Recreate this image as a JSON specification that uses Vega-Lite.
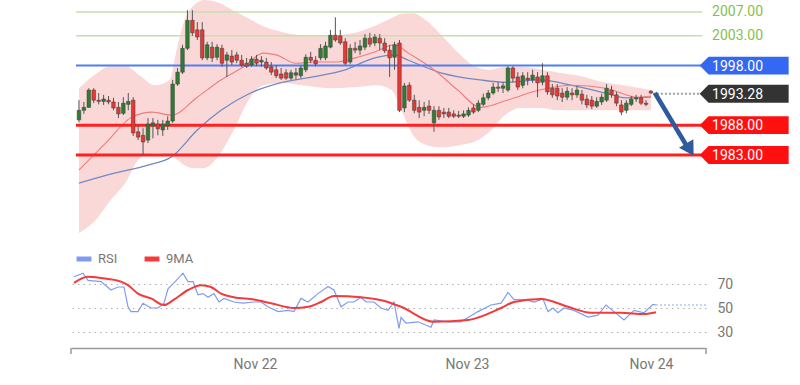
{
  "$schema": "https://vega.github.io/schema/vega-lite/v6.json",
  "padding": {"left": 70, "top": 0, "right": 0, "bottom": 0},
  "config": {"font": "Roboto", "view": {"stroke": null}},
  "datasets": {
    "candles": [
      {"i":0,"o":1988.9,"h":1992.2,"l":1988.5,"c":1990.5},
      {"i":1,"o":1990.5,"h":1991.9,"l":1989.9,"c":1991.0},
      {"i":2,"o":1991.0,"h":1994.2,"l":1990.9,"c":1993.9},
      {"i":3,"o":1993.9,"h":1994.2,"l":1991.7,"c":1992.2},
      {"i":4,"o":1992.2,"h":1993.4,"l":1991.5,"c":1992.0},
      {"i":5,"o":1992.0,"h":1993.1,"l":1991.4,"c":1992.4},
      {"i":6,"o":1992.2,"h":1992.9,"l":1991.5,"c":1991.9},
      {"i":7,"o":1991.9,"h":1992.6,"l":1990.5,"c":1990.9},
      {"i":8,"o":1991.0,"h":1991.9,"l":1989.2,"c":1989.9},
      {"i":9,"o":1990.0,"h":1992.7,"l":1989.7,"c":1991.7},
      {"i":10,"o":1991.5,"h":1993.4,"l":1990.5,"c":1992.0},
      {"i":11,"o":1992.2,"h":1992.7,"l":1986.2,"c":1986.7},
      {"i":12,"o":1986.9,"h":1988.0,"l":1985.5,"c":1986.0},
      {"i":13,"o":1986.3,"h":1987.5,"l":1983.0,"c":1985.2},
      {"i":14,"o":1985.5,"h":1989.2,"l":1985.0,"c":1988.2},
      {"i":15,"o":1987.9,"h":1989.2,"l":1985.8,"c":1988.4},
      {"i":16,"o":1988.2,"h":1988.9,"l":1986.3,"c":1987.4},
      {"i":17,"o":1987.2,"h":1988.9,"l":1986.2,"c":1988.2},
      {"i":18,"o":1987.9,"h":1989.5,"l":1987.2,"c":1988.7},
      {"i":19,"o":1988.7,"h":1995.6,"l":1988.4,"c":1994.9},
      {"i":20,"o":1994.9,"h":1997.6,"l":1994.6,"c":1996.9},
      {"i":21,"o":1996.9,"h":2001.5,"l":1996.6,"c":2000.9},
      {"i":22,"o":2000.9,"h":2007.3,"l":2000.6,"c":2005.6},
      {"i":23,"o":2005.6,"h":2007.3,"l":2003.0,"c":2003.5},
      {"i":24,"o":2004.0,"h":2005.3,"l":2002.3,"c":2002.8},
      {"i":25,"o":2004.0,"h":2005.3,"l":1998.9,"c":1999.3},
      {"i":26,"o":1999.3,"h":2002.0,"l":1998.9,"c":2001.5},
      {"i":27,"o":2001.1,"h":2002.0,"l":1998.6,"c":1999.3},
      {"i":28,"o":1999.4,"h":2001.6,"l":1998.9,"c":2001.1},
      {"i":29,"o":2000.9,"h":2001.5,"l":1997.8,"c":1998.4},
      {"i":30,"o":1998.9,"h":2000.3,"l":1996.1,"c":1999.8},
      {"i":31,"o":1999.6,"h":2000.6,"l":1998.1,"c":1998.6},
      {"i":32,"o":1999.8,"h":2000.3,"l":1998.4,"c":1998.9},
      {"i":33,"o":1998.9,"h":1999.8,"l":1997.8,"c":1998.1},
      {"i":34,"o":1998.4,"h":1999.3,"l":1997.6,"c":1997.9},
      {"i":35,"o":1998.1,"h":1999.6,"l":1997.8,"c":1999.1},
      {"i":36,"o":1999.1,"h":1999.8,"l":1997.9,"c":1998.4},
      {"i":37,"o":1998.6,"h":1999.6,"l":1997.8,"c":1998.9},
      {"i":38,"o":1998.6,"h":1999.3,"l":1997.3,"c":1997.6},
      {"i":39,"o":1997.8,"h":1998.6,"l":1996.4,"c":1996.9},
      {"i":40,"o":1997.3,"h":1998.1,"l":1995.9,"c":1996.3},
      {"i":41,"o":1996.6,"h":1997.6,"l":1995.6,"c":1995.9},
      {"i":42,"o":1996.8,"h":1997.4,"l":1995.6,"c":1995.9},
      {"i":43,"o":1995.9,"h":1997.3,"l":1995.6,"c":1996.8},
      {"i":44,"o":1996.4,"h":1997.6,"l":1995.7,"c":1996.8},
      {"i":45,"o":1996.3,"h":1998.1,"l":1995.9,"c":1997.6},
      {"i":46,"o":1997.3,"h":1999.9,"l":1996.9,"c":1999.4},
      {"i":47,"o":1999.4,"h":2000.3,"l":1998.4,"c":1998.9},
      {"i":48,"o":1998.9,"h":1999.6,"l":1997.9,"c":1998.3},
      {"i":49,"o":1999.3,"h":2001.6,"l":1998.9,"c":2000.9},
      {"i":50,"o":1999.3,"h":2002.0,"l":1998.9,"c":2001.3},
      {"i":51,"o":2001.1,"h":2004.0,"l":2000.9,"c":2003.1},
      {"i":52,"o":2003.1,"h":2006.1,"l":2002.0,"c":2002.3},
      {"i":53,"o":2003.0,"h":2004.0,"l":2001.5,"c":2001.8},
      {"i":54,"o":2002.0,"h":2002.6,"l":1998.1,"c":1998.4},
      {"i":55,"o":1998.6,"h":2001.6,"l":1998.3,"c":2000.9},
      {"i":56,"o":2000.9,"h":2002.0,"l":2000.1,"c":2000.6},
      {"i":57,"o":2000.6,"h":2002.3,"l":1999.8,"c":2001.3},
      {"i":58,"o":2001.1,"h":2003.3,"l":2000.6,"c":2002.6},
      {"i":59,"o":2002.6,"h":2003.5,"l":2001.1,"c":2001.6},
      {"i":60,"o":2001.8,"h":2003.3,"l":2001.3,"c":2002.8},
      {"i":61,"o":2002.6,"h":2003.3,"l":2000.6,"c":2001.8},
      {"i":62,"o":2001.8,"h":2002.6,"l":2000.1,"c":2000.5},
      {"i":63,"o":2000.6,"h":2001.5,"l":1996.1,"c":1999.3},
      {"i":64,"o":1999.4,"h":2002.0,"l":1997.3,"c":2001.5},
      {"i":65,"o":2001.8,"h":2002.3,"l":1990.2,"c":1990.5},
      {"i":66,"o":1990.9,"h":1995.1,"l":1990.2,"c":1994.6},
      {"i":67,"o":1994.7,"h":1995.2,"l":1991.9,"c":1992.2},
      {"i":68,"o":1992.2,"h":1993.1,"l":1990.0,"c":1990.5},
      {"i":69,"o":1991.0,"h":1992.2,"l":1989.2,"c":1990.2},
      {"i":70,"o":1990.5,"h":1991.9,"l":1989.5,"c":1991.0},
      {"i":71,"o":1991.2,"h":1992.2,"l":1989.9,"c":1990.5},
      {"i":72,"o":1988.4,"h":1991.2,"l":1986.9,"c":1990.5},
      {"i":73,"o":1990.5,"h":1991.2,"l":1988.9,"c":1989.4},
      {"i":74,"o":1990.2,"h":1990.9,"l":1989.2,"c":1989.9},
      {"i":75,"o":1990.2,"h":1990.9,"l":1989.2,"c":1989.5},
      {"i":76,"o":1989.9,"h":1990.5,"l":1989.2,"c":1989.5},
      {"i":77,"o":1989.7,"h":1990.4,"l":1989.2,"c":1989.5},
      {"i":78,"o":1989.5,"h":1990.5,"l":1989.2,"c":1989.9},
      {"i":79,"o":1989.7,"h":1991.0,"l":1989.4,"c":1990.5},
      {"i":80,"o":1990.9,"h":1991.5,"l":1989.9,"c":1990.2},
      {"i":81,"o":1990.5,"h":1992.2,"l":1990.2,"c":1991.7},
      {"i":82,"o":1991.5,"h":1993.3,"l":1991.2,"c":1992.6},
      {"i":83,"o":1992.6,"h":1993.9,"l":1992.2,"c":1993.4},
      {"i":84,"o":1993.4,"h":1995.1,"l":1993.1,"c":1994.4},
      {"i":85,"o":1994.4,"h":1995.2,"l":1993.6,"c":1994.2},
      {"i":86,"o":1994.2,"h":1995.2,"l":1993.4,"c":1994.6},
      {"i":87,"o":1993.9,"h":1997.9,"l":1993.6,"c":1997.6},
      {"i":88,"o":1997.6,"h":1997.9,"l":1995.2,"c":1995.9},
      {"i":89,"o":1996.1,"h":1996.9,"l":1993.9,"c":1994.4},
      {"i":90,"o":1994.7,"h":1996.9,"l":1994.2,"c":1996.3},
      {"i":91,"o":1995.9,"h":1996.9,"l":1994.7,"c":1995.6},
      {"i":92,"o":1995.6,"h":1997.3,"l":1995.1,"c":1996.4},
      {"i":93,"o":1996.1,"h":1996.9,"l":1992.7,"c":1995.1},
      {"i":94,"o":1995.2,"h":1998.4,"l":1994.7,"c":1996.3},
      {"i":95,"o":1996.3,"h":1996.9,"l":1993.1,"c":1993.6},
      {"i":96,"o":1994.2,"h":1994.9,"l":1992.6,"c":1993.1},
      {"i":97,"o":1994.2,"h":1994.9,"l":1992.2,"c":1992.9},
      {"i":98,"o":1993.4,"h":1994.2,"l":1991.9,"c":1992.7},
      {"i":99,"o":1992.7,"h":1994.4,"l":1992.2,"c":1993.7},
      {"i":100,"o":1993.4,"h":1994.2,"l":1992.2,"c":1993.1},
      {"i":101,"o":1993.1,"h":1994.6,"l":1992.6,"c":1993.9},
      {"i":102,"o":1993.2,"h":1993.9,"l":1991.5,"c":1992.2},
      {"i":103,"o":1992.4,"h":1993.1,"l":1990.9,"c":1991.4},
      {"i":104,"o":1992.2,"h":1992.9,"l":1990.7,"c":1991.2},
      {"i":105,"o":1991.2,"h":1992.7,"l":1990.9,"c":1992.0},
      {"i":106,"o":1991.9,"h":1993.3,"l":1991.4,"c":1992.7},
      {"i":107,"o":1992.2,"h":1994.9,"l":1991.9,"c":1994.2},
      {"i":108,"o":1993.9,"h":1994.6,"l":1992.6,"c":1993.1},
      {"i":109,"o":1993.1,"h":1993.6,"l":1991.2,"c":1991.7},
      {"i":110,"o":1991.4,"h":1992.2,"l":1989.7,"c":1990.2},
      {"i":111,"o":1990.5,"h":1992.2,"l":1990.0,"c":1991.7},
      {"i":112,"o":1991.5,"h":1992.9,"l":1991.2,"c":1992.4},
      {"i":113,"o":1992.4,"h":1993.1,"l":1991.9,"c":1992.6},
      {"i":114,"o":1992.6,"h":1993.1,"l":1991.4,"c":1991.7},
      {"i":115,"o":1991.7,"h":1992.2,"l":1991.2,"c":1991.5},
      {"i":116,"o":1993.7,"h":1993.9,"l":1993.2,"c":1993.4}
    ],
    "band": [
      {"i":0,"upper":1994.2,"lower":1969.9},
      {"i":3.4,"upper":1996.6,"lower":1972.1},
      {"i":6.4,"upper":1997.9,"lower":1975.4},
      {"i":9.4,"upper":1997.9,"lower":1978.3},
      {"i":12.4,"upper":1996.3,"lower":1982.5},
      {"i":15.4,"upper":1994.7,"lower":1983.3},
      {"i":18.4,"upper":1995.6,"lower":1983.0},
      {"i":19.8,"upper":2000.6,"lower":1982.3},
      {"i":21.4,"upper":2005.6,"lower":1981.3},
      {"i":23.4,"upper":2008.2,"lower":1980.8},
      {"i":25.4,"upper":2009.0,"lower":1980.8},
      {"i":28.4,"upper":2008.5,"lower":1983.0},
      {"i":31.4,"upper":2007.2,"lower":1987.2},
      {"i":34.4,"upper":2005.9,"lower":1992.2},
      {"i":37.4,"upper":2004.6,"lower":1994.7},
      {"i":41.4,"upper":2003.6,"lower":1995.1},
      {"i":45.4,"upper":2003.1,"lower":1994.7},
      {"i":51.4,"upper":2003.1,"lower":1994.2},
      {"i":56.4,"upper":2003.6,"lower":1994.4},
      {"i":60.4,"upper":2004.8,"lower":1994.7},
      {"i":63.4,"upper":2006.0,"lower":1993.9},
      {"i":65.4,"upper":2006.7,"lower":1990.5},
      {"i":67.8,"upper":2006.8,"lower":1986.3},
      {"i":70.4,"upper":2005.6,"lower":1984.7},
      {"i":73.4,"upper":2003.2,"lower":1984.3},
      {"i":77.4,"upper":1999.8,"lower":1984.7},
      {"i":80.4,"upper":1997.8,"lower":1985.3},
      {"i":83.4,"upper":1997.3,"lower":1987.0},
      {"i":86.4,"upper":1997.8,"lower":1989.7},
      {"i":89.4,"upper":1997.8,"lower":1990.9},
      {"i":93.4,"upper":1997.4,"lower":1990.9},
      {"i":97.4,"upper":1996.8,"lower":1990.5},
      {"i":101.4,"upper":1996.3,"lower":1990.5},
      {"i":106.4,"upper":1995.2,"lower":1990.5},
      {"i":111.4,"upper":1994.6,"lower":1990.5},
      {"i":116,"upper":1993.9,"lower":1990.5}
    ],
    "ma20": [
      {"i":0,"v":1980.5},{"i":5.4,"v":1985.0},{"i":10.8,"v":1989.4},{"i":14.8,"v":1990.2},
      {"i":18.8,"v":1989.7},{"i":24,"v":1992.7},{"i":28.8,"v":1995.6},{"i":33.4,"v":1997.8},
      {"i":37.4,"v":2000.1},{"i":40,"v":1999.8},{"i":44,"v":1998.4},{"i":48,"v":1998.6},
      {"i":52,"v":1998.6},{"i":56,"v":1999.3},{"i":60,"v":2000.3},{"i":64,"v":2001.5},
      {"i":66.8,"v":2000.1},{"i":72,"v":1997.3},{"i":76.8,"v":1993.9},{"i":81.4,"v":1991.0},
      {"i":86.8,"v":1992.2},{"i":93.4,"v":1993.9},{"i":100,"v":1994.7},{"i":106.8,"v":1994.2},
      {"i":113.4,"v":1992.7},{"i":116,"v":1992.9}
    ],
    "ma50": [
      {"i":0,"v":1978.3},{"i":7.4,"v":1980.0},{"i":14,"v":1981.3},{"i":18.8,"v":1982.7},
      {"i":24,"v":1987.2},{"i":28.8,"v":1990.5},{"i":34.8,"v":1993.4},{"i":40.8,"v":1995.1},
      {"i":47.4,"v":1996.1},{"i":54,"v":1997.3},{"i":60,"v":1999.3},{"i":64,"v":1999.8},
      {"i":66.8,"v":1998.9},{"i":73.4,"v":1996.8},{"i":81.4,"v":1995.6},{"i":86.8,"v":1995.2},
      {"i":93.4,"v":1995.6},{"i":100,"v":1994.7},{"i":106.8,"v":1993.4},{"i":110.8,"v":1992.6},
      {"i":116,"v":1992.7}
    ],
    "rsi": [
      {"i":0,"v":76},{"i":1.8,"v":79},{"i":2.8,"v":73},{"i":5.4,"v":72},{"i":7.4,"v":65},{"i":8.8,"v":67.5},
      {"i":10,"v":67.5},{"i":10.8,"v":51},{"i":11.4,"v":47},{"i":12.8,"v":47},{"i":13.8,"v":54},{"i":15.4,"v":50},
      {"i":16.8,"v":50},{"i":18,"v":54},{"i":18.8,"v":66},{"i":20,"v":71},{"i":21.8,"v":79},{"i":22.8,"v":72},
      {"i":23.8,"v":72},{"i":24.8,"v":61},{"i":25.8,"v":62},{"i":26.8,"v":59},{"i":28,"v":62},{"i":29,"v":55},
      {"i":30,"v":58},{"i":32,"v":55},{"i":33.8,"v":54},{"i":36,"v":55},{"i":37.4,"v":55},{"i":38.8,"v":51},
      {"i":40.8,"v":47},{"i":42.8,"v":48},{"i":44,"v":47},{"i":45.4,"v":58},{"i":46.8,"v":55},{"i":48.8,"v":62},
      {"i":50.8,"v":68},{"i":52,"v":65},{"i":53.4,"v":51},{"i":54.8,"v":55},{"i":56,"v":55},{"i":57.4,"v":59},
      {"i":58.4,"v":55},{"i":60,"v":55},{"i":61.4,"v":50},{"i":62.8,"v":48},{"i":64,"v":55},{"i":65,"v":33},
      {"i":65.4,"v":42},{"i":66.4,"v":37.5},{"i":68.8,"v":38.5},{"i":71.4,"v":34},{"i":72,"v":40},{"i":74.8,"v":38.5},
      {"i":77.4,"v":38.5},{"i":78.8,"v":42},{"i":80.8,"v":47},{"i":83.4,"v":52.5},{"i":85.4,"v":54},{"i":86.8,"v":63},
      {"i":88,"v":57},{"i":90.4,"v":57},{"i":92,"v":55},{"i":93.8,"v":57.5},{"i":94.8,"v":47},{"i":95.8,"v":50},
      {"i":96.8,"v":46},{"i":98,"v":50},{"i":100,"v":48},{"i":102.8,"v":42.5},{"i":104.8,"v":44},{"i":106.4,"v":52.5},
      {"i":108,"v":47},{"i":110,"v":40},{"i":112,"v":48},{"i":114,"v":46},{"i":115.8,"v":53},{"i":116.4,"v":52.5}
    ],
    "ma9": [
      {"i":0,"v":71},{"i":2.8,"v":76},{"i":5.4,"v":75},{"i":9.4,"v":72},{"i":10.8,"v":69},{"i":12.8,"v":62},
      {"i":15.4,"v":58},{"i":18,"v":52.5},{"i":20,"v":57},{"i":22.8,"v":65},{"i":25.4,"v":69},{"i":27.4,"v":67.5},
      {"i":29.4,"v":62},{"i":32,"v":59},{"i":36,"v":57},{"i":39.4,"v":54},{"i":44,"v":50},{"i":46.8,"v":51},
      {"i":49.4,"v":55},{"i":52,"v":60},{"i":57.4,"v":59},{"i":62.8,"v":55},{"i":64.4,"v":52.5},{"i":65.4,"v":51},
      {"i":72,"v":38.5},{"i":78.8,"v":40},{"i":85.4,"v":50},{"i":88,"v":55},{"i":93.4,"v":57.5},{"i":98.8,"v":51},
      {"i":103.4,"v":46},{"i":109.4,"v":46},{"i":114,"v":45},{"i":116.4,"v":46.5}
    ],
    "tags": [
      {"level":1998,"label":"1998.00","kind":"resistance"},
      {"level":1993.28,"label":"1993.28","kind":"last"},
      {"level":1988,"label":"1988.00","kind":"support"},
      {"level":1983,"label":"1983.00","kind":"support"}
    ]
  },
  "vconcat": [
    {
      "width": 725,
      "height": 240,
      "layer": [
        {
          "data": {"name": "band"},
          "mark": {"type": "area", "interpolate": "monotone", "color": "#fbd8d8", "opacity": 1},
          "encoding": {
            "x": {"field": "i", "type": "quantitative", "scale": {"domain": [-0.6, 144.4], "nice": false, "zero": false}, "axis": null},
            "y": {"field": "upper", "type": "quantitative", "scale": {"domain": [1968.74, 2009.01], "nice": false, "zero": false}, "axis": null},
            "y2": {"field": "lower"}
          }
        },
        {
          "data": {"name": "ma50"},
          "mark": {"type": "line", "interpolate": "monotone", "color": "#7189c4", "strokeWidth": 1.3},
          "encoding": {
            "x": {"field": "i", "type": "quantitative"},
            "y": {"field": "v", "type": "quantitative"}
          }
        },
        {
          "data": {"name": "ma20"},
          "mark": {"type": "line", "interpolate": "monotone", "color": "#f07c7c", "strokeWidth": 1.1},
          "encoding": {
            "x": {"field": "i", "type": "quantitative"},
            "y": {"field": "v", "type": "quantitative"}
          }
        },
        {
          "data": {"values": [{"level": 2007}, {"level": 2003}]},
          "mark": {"type": "rule", "color": "#c4e0ac", "strokeWidth": 1.5},
          "encoding": {
            "x": {"datum": -0.6, "type": "quantitative"},
            "x2": {"datum": 126.4},
            "y": {"field": "level", "type": "quantitative"}
          }
        },
        {
          "data": {"values": [{"level": 1998}]},
          "mark": {"type": "rule", "color": "#4f7ef2", "strokeWidth": 2},
          "encoding": {
            "x": {"datum": -0.6, "type": "quantitative"},
            "x2": {"datum": 126.4},
            "y": {"field": "level", "type": "quantitative"}
          }
        },
        {
          "data": {"values": [{"level": 1988}, {"level": 1983}]},
          "mark": {"type": "rule", "color": "#ff2020", "strokeWidth": 3},
          "encoding": {
            "x": {"datum": -0.6, "type": "quantitative"},
            "x2": {"datum": 126.4},
            "y": {"field": "level", "type": "quantitative"}
          }
        },
        {
          "data": {"name": "candles"},
          "mark": {"type": "rule", "color": "#555555", "strokeWidth": 1},
          "encoding": {
            "x": {"field": "i", "type": "quantitative"},
            "y": {"field": "l", "type": "quantitative"},
            "y2": {"field": "h"}
          }
        },
        {
          "data": {"name": "candles"},
          "mark": {"type": "bar", "size": 3.6, "stroke": "#3a3a3a", "strokeWidth": 0.5},
          "encoding": {
            "x": {"field": "i", "type": "quantitative"},
            "y": {"field": "o", "type": "quantitative"},
            "y2": {"field": "c"},
            "fill": {"condition": {"test": "datum.c >= datum.o", "value": "#2e7d32"}, "value": "#e53935"}
          }
        },
        {
          "data": {"values": [{"level": 1993.28}]},
          "mark": {"type": "rule", "color": "#9aa0aa", "strokeWidth": 2, "strokeDash": [2, 2]},
          "encoding": {
            "x": {"datum": 116.4, "type": "quantitative"},
            "x2": {"datum": 126.4},
            "y": {"field": "level", "type": "quantitative"}
          }
        },
        {
          "data": {"values": [{"i": 116.8, "p": 1993.4, "i2": 123.2, "p2": 1984.6}]},
          "mark": {"type": "rule", "color": "#2f5b9c", "strokeWidth": 4.5},
          "encoding": {
            "x": {"field": "i", "type": "quantitative"},
            "y": {"field": "p", "type": "quantitative"},
            "x2": {"field": "i2"},
            "y2": {"field": "p2"}
          }
        },
        {
          "data": {"values": [{"i": 123.9, "p": 1983.9}]},
          "mark": {"type": "point", "shape": "triangle-down", "size": 280, "angle": 329, "filled": true, "color": "#2f5b9c", "opacity": 1},
          "encoding": {
            "x": {"field": "i", "type": "quantitative"},
            "y": {"field": "p", "type": "quantitative"}
          }
        },
        {
          "data": {"values": [{"level": 2007, "label": "2007.00"}, {"level": 2003, "label": "2003.00"}]},
          "mark": {"type": "text", "align": "left", "baseline": "middle", "fontSize": 14, "color": "#86bf4c"},
          "encoding": {
            "x": {"datum": 128.4, "type": "quantitative"},
            "y": {"field": "level", "type": "quantitative"},
            "text": {"field": "label"}
          }
        },
        {
          "data": {"name": "tags"},
          "mark": {"type": "point", "shape": "M-1,0L-0.8,-0.2L1,-0.2L1,0.2L-0.8,0.2Z", "size": 7921, "filled": true, "opacity": 1, "strokeWidth": 0},
          "encoding": {
            "x": {"datum": 134.9, "type": "quantitative"},
            "y": {"field": "level", "type": "quantitative"},
            "color": {"field": "kind", "type": "nominal", "scale": {"domain": ["resistance", "last", "support"], "range": ["#3468f2", "#333333", "#ff1010"]}, "legend": null}
          }
        },
        {
          "data": {"name": "tags"},
          "mark": {"type": "text", "align": "left", "baseline": "middle", "fontSize": 14, "color": "#ffffff", "dy": 1},
          "encoding": {
            "x": {"datum": 128.4, "type": "quantitative"},
            "y": {"field": "level", "type": "quantitative"},
            "text": {"field": "label"}
          }
        }
      ]
    },
    {
      "width": 635,
      "height": 100,
      "layer": [
        {
          "data": {"name": "rsi"},
          "mark": {"type": "line", "strokeWidth": 1.2},
          "encoding": {
            "x": {
              "field": "i", "type": "quantitative",
              "scale": {"domain": [-0.6, 126.4], "nice": false, "zero": false},
              "axis": {
                "values": [36.2, 78.6, 115.4],
                "labelExpr": "datum.value < 50 ? 'Nov 22' : (datum.value < 100 ? 'Nov 23' : 'Nov 24')",
                "ticks": false, "grid": false, "title": null,
                "domainColor": "#9a9a9a", "domainWidth": 1.5,
                "labelPadding": 9, "labelFontSize": 14, "labelColor": "#777777", "labelFont": "Roboto"
              }
            },
            "y": {
              "field": "v", "type": "quantitative",
              "scale": {"domain": [16.67, 100], "nice": false, "zero": false},
              "axis": {
                "orient": "right", "values": [30, 50, 70], "domain": false, "ticks": false, "title": null,
                "labelPadding": 11, "labelFontSize": 14, "labelColor": "#777777", "labelFont": "Roboto",
                "grid": true, "gridDash": [1.5, 4], "gridColor": "#b0b0b0", "gridWidth": 1.2
              }
            },
            "color": {
              "datum": "RSI",
              "scale": {"domain": ["RSI", "9MA"], "range": ["#7d9cf0", "#f43a3a"]},
              "legend": {
                "orient": "none", "legendX": 3, "legendY": 1, "direction": "horizontal", "title": null,
                "symbolType": "stroke", "symbolStrokeWidth": 5, "symbolSize": 220,
                "labelFontSize": 13, "labelColor": "#777777", "labelFont": "Roboto", "columnPadding": 16
              }
            }
          }
        },
        {
          "data": {"name": "ma9"},
          "mark": {"type": "line", "strokeWidth": 2, "interpolate": "monotone"},
          "encoding": {
            "x": {"field": "i", "type": "quantitative"},
            "y": {"field": "v", "type": "quantitative"},
            "color": {"datum": "9MA"}
          }
        },
        {
          "data": {"values": [{"v": 52.5}]},
          "mark": {"type": "rule", "color": "#8fa8f0", "strokeWidth": 1.2, "strokeDash": [2, 2]},
          "encoding": {
            "x": {"datum": 116.4, "type": "quantitative"},
            "x2": {"datum": 126.4},
            "y": {"field": "v", "type": "quantitative"}
          }
        },
        {
          "data": {"values": [{"i": -0.6}, {"i": 126.4}]},
          "mark": {"type": "rule", "color": "#9a9a9a", "strokeWidth": 1.5},
          "encoding": {
            "x": {"field": "i", "type": "quantitative"},
            "y": {"datum": 16.67, "type": "quantitative"},
            "y2": {"datum": 11.67}
          }
        }
      ]
    }
  ],
  "spacing": 8,
  "resolve": {"scale": {"x": "independent", "y": "independent", "color": "independent"}}
}
